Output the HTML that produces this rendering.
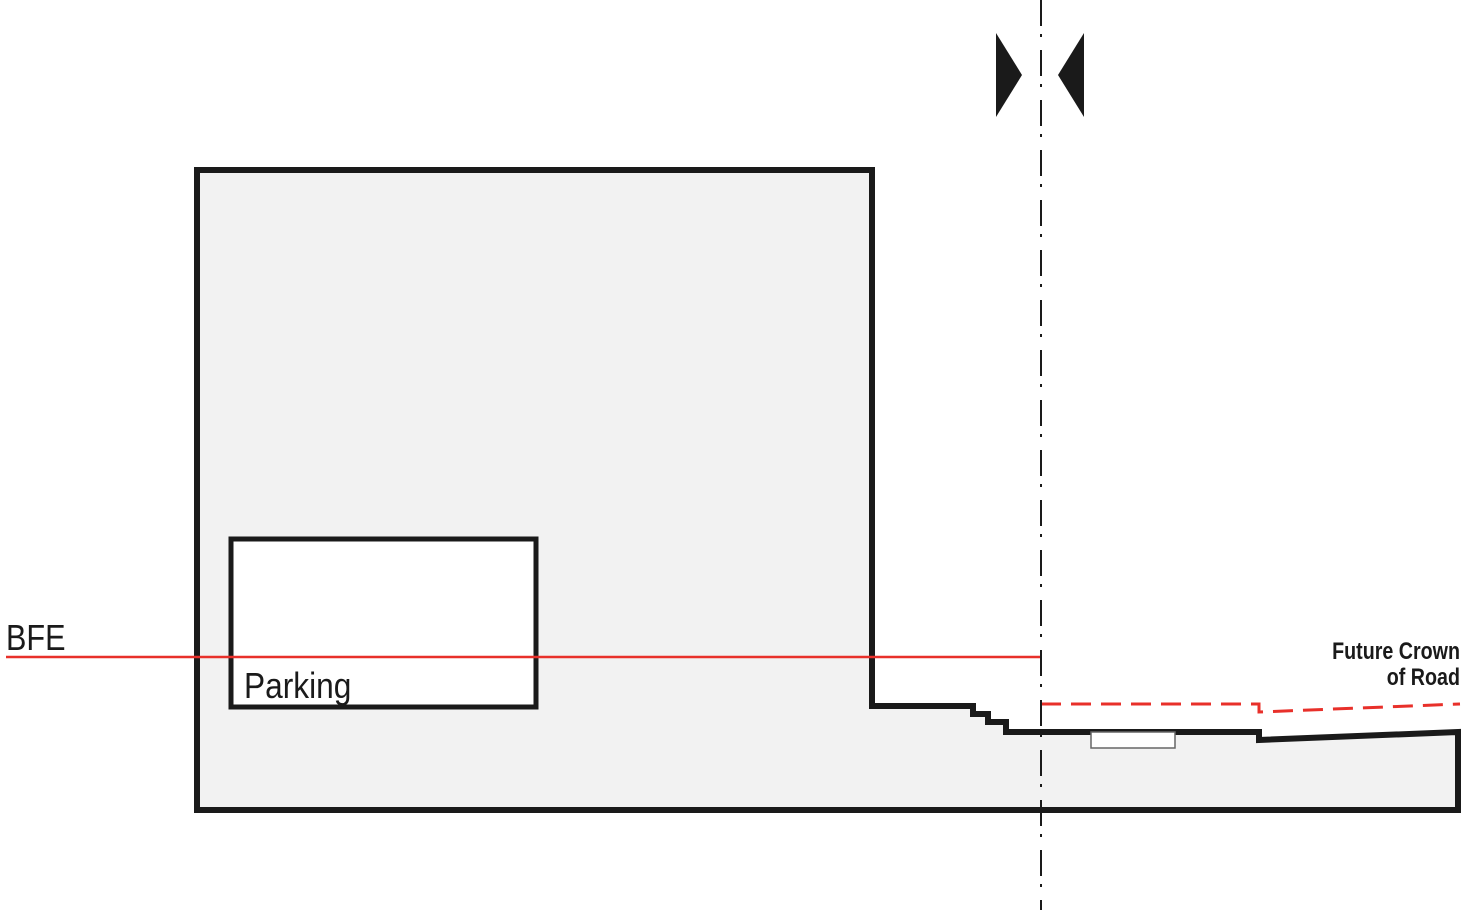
<!DOCTYPE html>
<html><head><meta charset="utf-8"><style>html,body{margin:0;padding:0;background:#fff}svg{display:block}</style></head>
<body>
<svg width="1468" height="915" viewBox="0 0 1468 915" xmlns="http://www.w3.org/2000/svg">
<path d="M197,170 H872 V706 H973 V714 H988 V722 H1006 V732 H1259 V740 L1458,732 V810 H197 Z" fill="#f2f2f2" stroke="#1a1a1a" stroke-width="6" stroke-linejoin="miter"/>
<rect x="1091" y="732" width="84" height="16" fill="#fff" stroke="#666" stroke-width="1.5"/>
<rect x="231" y="539" width="305" height="168" fill="#fff" stroke="#1a1a1a" stroke-width="5"/>
<line x1="6" y1="657" x2="1041" y2="657" stroke="#e8302a" stroke-width="2.5"/>
<path d="M1041,704 H1259 V712 L1460,704" fill="none" stroke="#e8302a" stroke-width="3" stroke-dasharray="20,10"/>
<line x1="1041" y1="0" x2="1041" y2="910" stroke="#1a1a1a" stroke-width="2" stroke-dasharray="26,8,3,13"/>
<polygon points="996,33 1022,75 996,117" fill="#1a1a1a"/>
<polygon points="1084,33 1058,75 1084,117" fill="#1a1a1a"/>
<text x="6" y="650" font-family="Liberation Sans, sans-serif" font-size="36" fill="#1a1a1a" transform="translate(6 0) scale(0.85 1) translate(-6 0)">BFE</text>
<text x="244" y="698" font-family="Liberation Sans, sans-serif" font-size="36" fill="#1a1a1a" transform="translate(244 0) scale(0.88 1) translate(-244 0)">Parking</text>
<g font-family="Liberation Sans, sans-serif" font-size="24" font-weight="bold" fill="#1a1a1a" text-anchor="end" transform="translate(1460 0) scale(0.82 1) translate(-1460 0)">
<text x="1460" y="659">Future Crown</text>
<text x="1460" y="685">of Road</text>
</g>
</svg>
</body></html>
